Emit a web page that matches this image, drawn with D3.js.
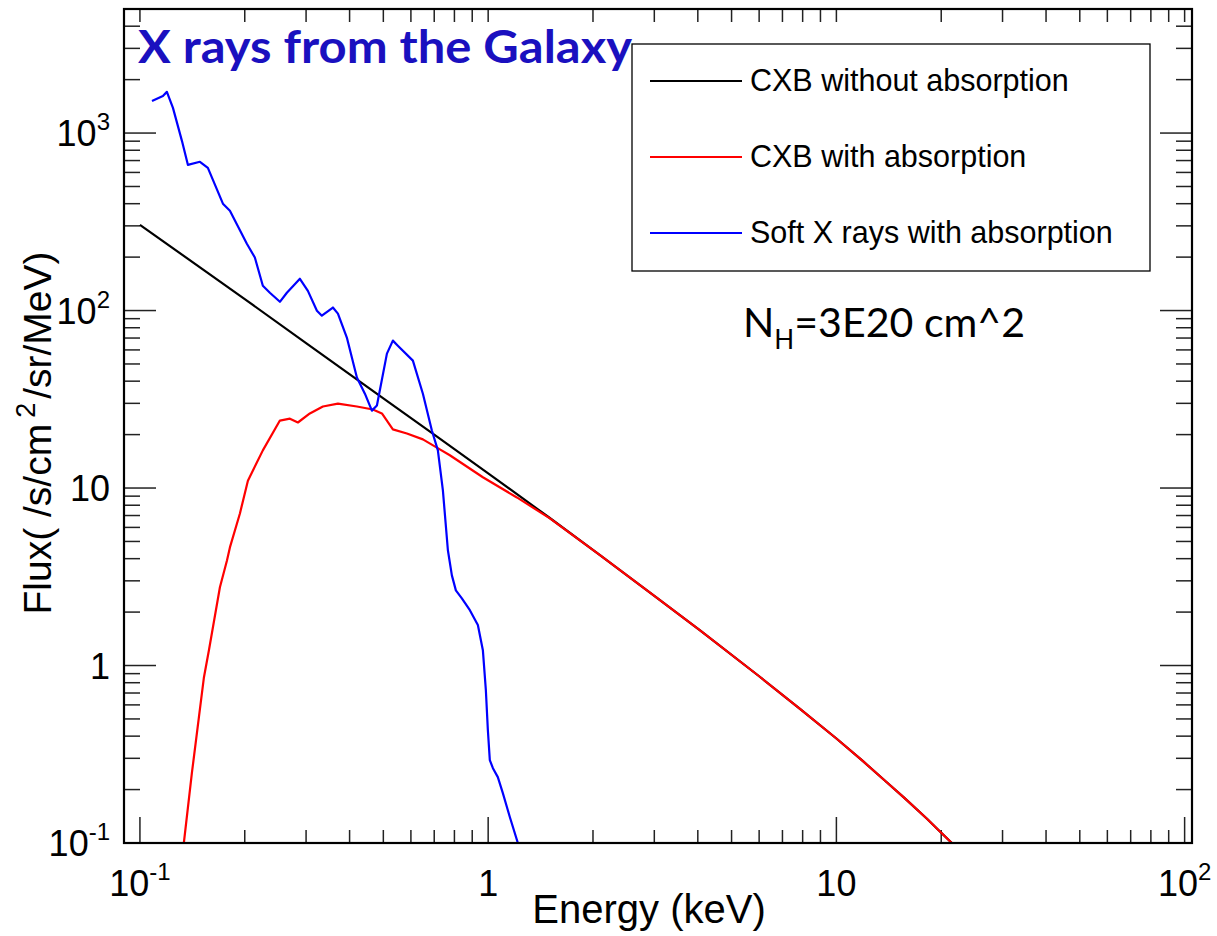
<!DOCTYPE html>
<html>
<head>
<meta charset="utf-8">
<script src="https://cdn.jsdelivr.net/npm/d3@7"></script>
<style>
  body { margin: 0; background: #fff; }
  svg { display: block; }
</style>
</head>
<body>
<svg id="chart" width="1217" height="936"></svg>
<script>
// CXB without absorption (keV, flux)
const cxbEnergy = [0.1, 0.2, 0.3, 0.5, 0.7, 1.0, 1.5, 2.09, 3.0, 4.06, 6.0, 7.86, 10.0, 11.9, 13.95, 15.7, 18.2, 19.4, 21.45];
const cxbFlux   = [304, 116, 65.5, 32, 20, 12.1, 6.8, 4.2, 2.47, 1.58, 0.87, 0.57, 0.388, 0.29, 0.22, 0.179, 0.137, 0.121, 0.1];

// CXB with absorption
const cxbAbsEnergy = [0.1337, 0.141, 0.1477, 0.1527, 0.1578, 0.1697, 0.1778, 0.1813, 0.1937, 0.2042, 0.2254, 0.2523, 0.2696, 0.2842, 0.3076, 0.3353, 0.3703, 0.4198, 0.4666, 0.4953, 0.5325, 0.5843, 0.6495, 0.7124, 0.7762, 0.9656, 1.209, 1.504, 2.09, 3.0, 4.06, 6.0, 7.86, 10.0, 11.9, 13.95, 15.7, 18.2, 19.4, 21.45];
const cxbAbsFlux   = [0.1, 0.248, 0.512, 0.859, 1.22, 2.76, 3.91, 4.63, 7.19, 11.0, 16.3, 24.0, 24.6, 23.4, 26.3, 28.8, 29.9, 28.8, 27.7, 26.3, 21.4, 20.3, 18.8, 16.9, 15.3, 11.5, 8.85, 6.75, 4.2, 2.47, 1.58, 0.87, 0.57, 0.388, 0.29, 0.22, 0.179, 0.137, 0.121, 0.1];

// Soft X rays with absorption
const softEnergy = [0.1083, 0.1164, 0.1195, 0.1244, 0.132, 0.1373, 0.1487, 0.1567, 0.1731, 0.1813, 0.2028, 0.2138, 0.2254, 0.2361, 0.2523, 0.2642, 0.288, 0.3036, 0.3223, 0.333, 0.3582, 0.3703, 0.3928, 0.4198, 0.4426, 0.4636, 0.4792, 0.512, 0.5325, 0.5503, 0.6079, 0.6495, 0.6892, 0.7171, 0.7413, 0.7662, 0.7867, 0.8077, 0.8404, 0.886, 0.9342, 0.9656, 0.9849, 0.998, 1.011, 1.032, 1.066, 1.102, 1.154, 1.217];
const softFlux   = [1517, 1619, 1706, 1387, 904, 662, 689, 637, 400, 365, 238, 199, 138, 126, 112, 126, 151, 129, 99.8, 93.5, 104, 96.1, 70.4, 41.9, 34.0, 27.3, 29.2, 57.2, 67.7, 63.4, 52.2, 34.0, 21.1, 16.3, 9.7, 4.46, 3.22, 2.65, 2.39, 2.05, 1.69, 1.22, 0.726, 0.433, 0.293, 0.264, 0.235, 0.191, 0.14, 0.1];

const xMajor = [0.1, 1, 10, 100];
const xTickLabels = [["10", "-1"], ["1", ""], ["10", ""], ["10", "2"]];
const yMajor = [0.1, 1, 10, 100, 1000];
const yTickLabels = [["10", "-1"], ["1", ""], ["10", ""], ["10", "2"], ["10", "3"]];

const legendLabels = ["CXB without absorption", "CXB with absorption", "Soft X rays with absorption"];
const legendColors = ["#000000", "#ff0000", "#0000ff"];

(() => {
  const svg = d3.select("#chart");
  const pLeft = 124, pRight = 1192, pTop = 9, pBottom = 843;

  const x = d3.scaleLog().domain([0.09, 105]).range([pLeft, pRight]);
  const y = d3.scaleLog().domain([0.1, 5000]).range([pBottom, pTop]);

  const font = "'Liberation Sans', Arial, Helvetica, sans-serif";

  // minor tick positions inside the domain
  function minorTicks(scale) {
    const [a, b] = scale.domain();
    const out = [];
    for (let e = -2; e <= 3; e++) {
      for (let m = 2; m <= 9; m++) {
        const v = m * Math.pow(10, e);
        if (v > a * 1.001 && v < b * 0.999) out.push(v);
      }
    }
    return out;
  }

  svg.append("defs").append("clipPath").attr("id", "plot-clip")
    .append("rect").attr("x", pLeft).attr("y", pTop)
    .attr("width", pRight - pLeft).attr("height", pBottom - pTop);

  // ticks
  const tk = svg.append("g").attr("stroke", "#222").attr("stroke-width", 1.5);
  const xMinor = minorTicks(x), yMinor = minorTicks(y);

  xMajor.forEach(v => tk.append("line").attr("x1", x(v)).attr("x2", x(v)).attr("y1", pBottom).attr("y2", pBottom - 26));
  xMinor.forEach(v => tk.append("line").attr("x1", x(v)).attr("x2", x(v)).attr("y1", pBottom).attr("y2", pBottom - 13));
  xMajor.concat(xMinor).forEach(v => tk.append("line").attr("x1", x(v)).attr("x2", x(v)).attr("y1", pTop).attr("y2", pTop + 13));
  yMajor.forEach(v => tk.append("line").attr("y1", y(v)).attr("y2", y(v)).attr("x1", pLeft).attr("x2", pLeft + 32));
  yMinor.forEach(v => tk.append("line").attr("y1", y(v)).attr("y2", y(v)).attr("x1", pLeft).attr("x2", pLeft + 16));
  yMajor.forEach(v => tk.append("line").attr("y1", y(v)).attr("y2", y(v)).attr("x1", pRight).attr("x2", pRight - 32));
  yMinor.forEach(v => tk.append("line").attr("y1", y(v)).attr("y2", y(v)).attr("x1", pRight).attr("x2", pRight - 16));

  // curves
  const line = d3.line().x(d => x(d[0])).y(d => y(d[1]));
  const series = [
    { e: cxbEnergy, f: cxbFlux, color: "#000000" },
    { e: cxbAbsEnergy, f: cxbAbsFlux, color: "#ff0000" },
    { e: softEnergy, f: softFlux, color: "#0000ff" }
  ];
  const curves = svg.append("g").attr("clip-path", "url(#plot-clip)");
  series.forEach(s => {
    curves.append("path")
      .datum(d3.zip(s.e, s.f))
      .attr("d", line)
      .attr("fill", "none")
      .attr("stroke", s.color)
      .attr("stroke-width", 2.2)
      .attr("stroke-linejoin", "round");
  });

  // frame
  svg.append("rect").attr("x", pLeft).attr("y", pTop)
    .attr("width", pRight - pLeft).attr("height", pBottom - pTop)
    .attr("fill", "none").attr("stroke", "#000").attr("stroke-width", 2.2);

  // tick labels
  xMajor.forEach((v, i) => {
    const t = svg.append("text").attr("x", x(v)).attr("y", 896)
      .attr("text-anchor", "middle").attr("font-family", font).attr("font-size", 36)
      .text(xTickLabels[i][0]);
    if (xTickLabels[i][1]) t.append("tspan").attr("dy", -16).attr("font-size", 24).text(xTickLabels[i][1]);
  });
  yMajor.forEach((v, i) => {
    const t = svg.append("text").attr("x", 110).attr("y", y(v) + 13)
      .attr("text-anchor", "end").attr("font-family", font).attr("font-size", 36)
      .text(yTickLabels[i][0]);
    if (yTickLabels[i][1]) t.append("tspan").attr("dy", -16).attr("font-size", 24).text(yTickLabels[i][1]);
  });

  // axis titles
  svg.append("text").attr("x", 649).attr("y", 923)
    .attr("text-anchor", "middle").attr("font-family", font).attr("font-size", 40)
    .text("Energy (keV)");

  const yt = svg.append("text")
    .attr("transform", "translate(51,433) rotate(-90)")
    .attr("text-anchor", "middle").attr("font-family", font).attr("font-size", 39);
  yt.append("tspan").text("Flux( /s/cm");
  yt.append("tspan").attr("dx", 6).attr("dy", -16).attr("font-size", 27).text("2");
  yt.append("tspan").attr("dx", 4).attr("dy", 16).text("/sr/MeV)");

  // legend
  const lg = svg.append("g");
  lg.append("rect").attr("x", 632).attr("y", 44).attr("width", 518).attr("height", 227)
    .attr("fill", "#fff").attr("stroke", "#000").attr("stroke-width", 1.3);
  const rowY = [81, 157, 233];
  legendLabels.forEach((lab, i) => {
    lg.append("line").attr("x1", 650).attr("x2", 742).attr("y1", rowY[i]).attr("y2", rowY[i])
      .attr("stroke", legendColors[i]).attr("stroke-width", 2.2);
    lg.append("text").attr("x", 750).attr("y", rowY[i] + 10)
      .attr("font-family", font).attr("font-size", 30.5).text(lab);
  });

  // annotations
  svg.append("text").attr("x", 138).attr("y", 63)
    .attr("font-family", "Lato, 'Open Sans', sans-serif").attr("font-weight", 700)
    .attr("font-size", 46).attr("fill", "#1a10bf")
    .attr("textLength", 494).attr("lengthAdjust", "spacingAndGlyphs")
    .text("X rays from the Galaxy");

  const nh = svg.append("text").attr("x", 743).attr("y", 337)
    .attr("font-family", "Lato, 'Open Sans', sans-serif").attr("font-size", 41)
    .attr("textLength", 282).attr("lengthAdjust", "spacingAndGlyphs");
  nh.append("tspan").text("N");
  nh.append("tspan").attr("dy", 12).attr("font-size", 26).text("H");
  nh.append("tspan").attr("dy", -12).text("=3E20 cm^2");
})();
</script>
</body>
</html>
